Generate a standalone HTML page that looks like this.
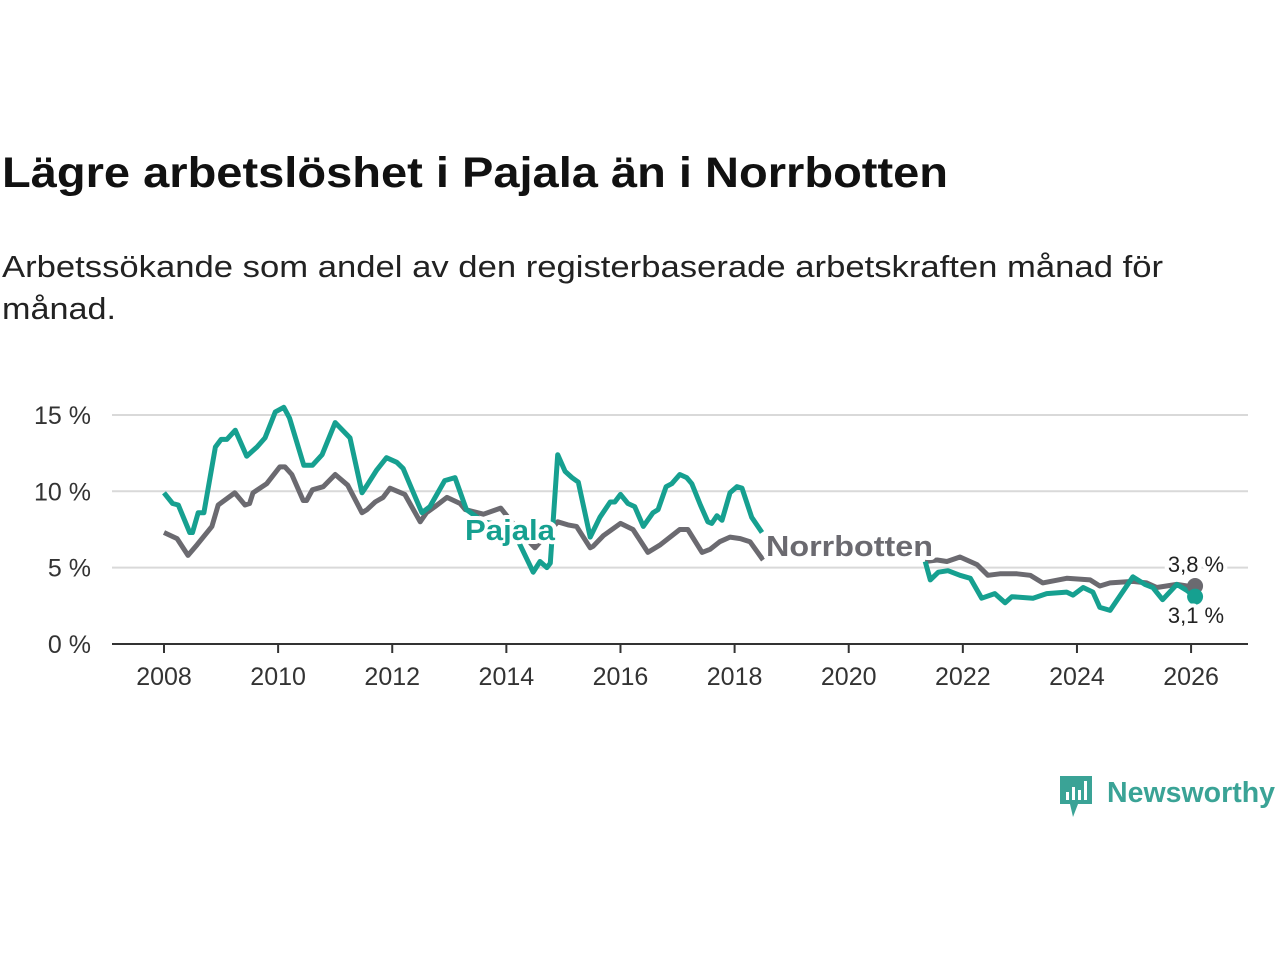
<!DOCTYPE html>
<html><head><meta charset="utf-8">
<style>
body{margin:0;background:#fff;width:1280px;height:960px;overflow:hidden;font-family:"Liberation Sans",sans-serif}
</style></head>
<body>
<svg id="chart" width="1280" height="960" viewBox="0 0 1280 960" xmlns="http://www.w3.org/2000/svg">
<text x="2" y="187" textLength="946" lengthAdjust="spacingAndGlyphs" font-family="Liberation Sans, sans-serif" font-weight="bold" font-size="43" fill="#111">Lägre arbetslöshet i Pajala än i Norrbotten</text>
<text x="2" y="277" textLength="1161" lengthAdjust="spacingAndGlyphs" font-family="Liberation Sans, sans-serif" font-size="31" fill="#222">Arbetssökande som andel av den registerbaserade arbetskraften månad för</text>
<text x="2" y="319" textLength="114" lengthAdjust="spacingAndGlyphs" font-family="Liberation Sans, sans-serif" font-size="31" fill="#222">månad.</text>
<g id="grid"></g><g id="xaxis"></g><g id="lines"></g><g id="labels"></g>
<g>
<path d="M1060 776 h32 v28 h-14 l-5 13 l-3-13 h-10 z" fill="#3aa396"/>
<rect x="1066" y="792" width="3" height="8" fill="#fff"/><rect x="1072" y="787" width="3" height="13" fill="#fff"/><rect x="1078" y="790" width="3" height="10" fill="#fff"/><rect x="1084" y="781" width="3" height="19" fill="#fff"/>
<text x="1107" y="802" textLength="168" lengthAdjust="spacingAndGlyphs" font-family="Liberation Sans, sans-serif" font-weight="bold" font-size="29" fill="#3aa396">Newsworthy</text>
</g>
</svg>
<script>
const yTicks=[0,5,10,15];
const yTickLabels=["0 %","5 %","10 %","15 %"];
const xTicks=[2008,2010,2012,2014,2016,2018,2020,2022,2024,2026];
const pajalaYears=[2008.0,2008.15,2008.25,2008.45,2008.5,2008.6,2008.7,2008.9,2009.0,2009.1,2009.25,2009.45,2009.63,2009.77,2009.95,2010.1,2010.2,2010.45,2010.6,2010.77,2011.0,2011.08,2011.26,2011.47,2011.56,2011.73,2011.9,2012.08,2012.19,2012.36,2012.52,2012.66,2012.92,2013.1,2013.3,2013.6,2013.9,2014.2,2014.47,2014.59,2014.71,2014.77,2014.9,2015.03,2015.15,2015.26,2015.47,2015.64,2015.82,2015.9,2016.0,2016.13,2016.25,2016.4,2016.57,2016.66,2016.8,2016.9,2017.04,2017.16,2017.25,2017.4,2017.53,2017.6,2017.69,2017.78,2017.92,2018.04,2018.13,2018.3,2018.48,2019.5,2021.34,2021.43,2021.57,2021.74,2021.95,2022.13,2022.33,2022.56,2022.74,2022.86,2023.23,2023.47,2023.82,2023.93,2024.11,2024.28,2024.4,2024.58,2024.98,2025.19,2025.33,2025.5,2025.75,2025.93,2026.07];
const pajalaValues=[9.9,9.2,9.1,7.3,7.3,8.6,8.6,12.9,13.4,13.4,14.0,12.3,12.9,13.5,15.2,15.5,14.8,11.7,11.7,12.4,14.5,14.2,13.5,9.9,10.4,11.4,12.2,11.9,11.5,10.0,8.6,9.0,10.7,10.9,8.8,8.0,7.8,6.8,4.7,5.4,5.0,5.3,12.4,11.3,10.9,10.6,7.0,8.3,9.3,9.3,9.8,9.2,9.0,7.7,8.6,8.8,10.3,10.5,11.1,10.9,10.5,9.1,8.0,7.9,8.4,8.1,9.9,10.3,10.2,8.3,7.3,null,5.4,4.2,4.7,4.8,4.5,4.3,3.0,3.3,2.7,3.1,3.0,3.3,3.4,3.2,3.7,3.4,2.4,2.2,4.4,3.9,3.7,2.9,3.9,3.5,3.1];
const norrYears=[2008.0,2008.23,2008.42,2008.58,2008.84,2008.95,2009.24,2009.42,2009.5,2009.56,2009.8,2010.03,2010.12,2010.24,2010.44,2010.5,2010.6,2010.79,2011.0,2011.22,2011.47,2011.56,2011.7,2011.84,2011.96,2012.22,2012.4,2012.49,2012.6,2012.75,2012.96,2013.19,2013.28,2013.6,2013.9,2014.2,2014.5,2014.9,2015.08,2015.23,2015.47,2015.52,2015.7,2016.0,2016.22,2016.48,2016.7,2017.04,2017.18,2017.43,2017.57,2017.74,2017.92,2018.1,2018.27,2018.5,2019.5,2021.34,2021.55,2021.72,2021.95,2022.25,2022.44,2022.65,2022.95,2023.18,2023.4,2023.82,2024.23,2024.4,2024.58,2024.98,2025.22,2025.4,2025.75,2025.93,2026.07];
const norrValues=[7.3,6.9,5.8,6.5,7.7,9.1,9.9,9.1,9.2,9.9,10.5,11.6,11.6,11.1,9.4,9.4,10.1,10.3,11.1,10.4,8.6,8.8,9.3,9.6,10.2,9.8,8.6,8.0,8.6,9.0,9.6,9.2,8.8,8.5,8.9,7.5,6.3,8.0,7.8,7.7,6.3,6.4,7.1,7.9,7.5,6.0,6.5,7.5,7.5,6.0,6.2,6.7,7.0,6.9,6.7,5.5,null,5.4,5.5,5.4,5.7,5.2,4.5,4.6,4.6,4.5,4.0,4.3,4.2,3.8,4.0,4.1,4.0,3.7,3.9,3.8,3.8];
const NS="http://www.w3.org/2000/svg";
const X=y=>164+(y-2008)*57.06;
const Y=v=>644-v*15.27;
function mk(t,a,p){const e=document.createElementNS(NS,t);for(const k in a)e.setAttribute(k,a[k]);document.getElementById(p).appendChild(e);return e;}
yTicks.forEach((t,i)=>{
 if(t>0){const l=mk('line',{x1:112,x2:1248,y1:Y(t),y2:Y(t),stroke:'#d9d9d9','stroke-width':2},'grid');
 
 }
 const tx=mk('text',{x:91,y:Y(t)+9,'text-anchor':'end','font-size':25,fill:'#333','font-family':'Liberation Sans, sans-serif'},'grid');
 tx.textContent=yTickLabels[i];
 
 
});
const ax=mk('line',{x1:112,x2:1248,y1:644,y2:644,stroke:'#333','stroke-width':2},'xaxis');


xTicks.forEach(t=>{
 const tk=mk('line',{x1:X(t),x2:X(t),y1:644,y2:653,stroke:'#333','stroke-width':2},'xaxis');
 
 
 const tx=mk('text',{x:X(t),y:685,'text-anchor':'middle','font-size':25,fill:'#333','font-family':'Liberation Sans, sans-serif'},'xaxis');
 tx.textContent=t;
 
 
});
function path(xs,vs){let d='',pen=false;xs.forEach((x,i)=>{const v=vs[i];if(v==null){pen=false;return;}d+=(pen?'L':'M')+X(x).toFixed(1)+' '+Y(v).toFixed(1);pen=true;});return d;}
const pn=mk('path',{d:path(norrYears,norrValues),fill:'none',stroke:'#6b6a70','stroke-width':5,'stroke-linejoin':'round'},'lines');


const pp=mk('path',{d:path(pajalaYears,pajalaValues),fill:'none',stroke:'#16a090','stroke-width':5,'stroke-linejoin':'round'},'lines');


const nl=norrYears.length-1,pl=pajalaYears.length-1;
const dn=mk('circle',{cx:X(norrYears[nl]),cy:Y(norrValues[nl]),r:8,fill:'#6b6a70'},'lines');


const dp=mk('circle',{cx:X(pajalaYears[pl]),cy:Y(pajalaValues[pl]),r:8,fill:'#16a090'},'lines');


function lab(txt,x,y,fill,bold,size,anchor,name,len){const a={x:x,y:y,fill:fill,'font-size':size,'font-weight':bold?'bold':'normal','text-anchor':anchor,'font-family':'Liberation Sans, sans-serif',stroke:'#fff','stroke-width':8,'paint-order':'stroke','stroke-linejoin':'round'};if(len){a.textLength=len;a.lengthAdjust='spacingAndGlyphs';}const t=mk('text',a,'labels');t.textContent=txt;
 
 }
lab('Pajala',465,540,'#16a090',true,29,'start','pajala-label',90);
lab('Norrbotten',766,556,'#6b6a70',true,29,'start','norrbotten-label',167);
lab('3,8 %',1196,572,'#222',false,22,'middle','norrbotten-end-value');
lab('3,1 %',1196,623,'#222',false,22,'middle','pajala-end-value');
</script>
</body></html>
